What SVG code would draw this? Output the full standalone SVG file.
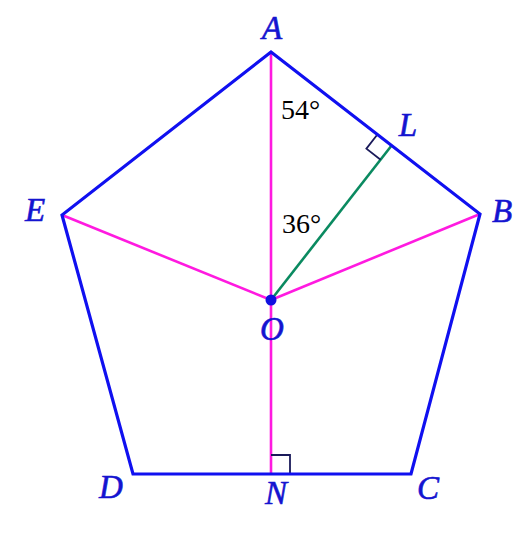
<svg xmlns="http://www.w3.org/2000/svg" width="531" height="536" viewBox="0 0 531 536">
<style>
.lbl{font-family:"Liberation Serif",serif;font-style:italic;font-size:33px;fill:#1414d0;stroke:#1414d0;stroke-width:0.6}
.num{font-family:"Liberation Serif",serif;font-size:28px;fill:#000}
.pent{fill:none;stroke:#1010f0;stroke-width:3.2;stroke-linejoin:miter}
.pink{stroke:#ff1ae0;stroke-width:2.6;fill:none}
.green{stroke:#0a8a60;stroke-width:2.6;fill:none}
.ra{stroke:#1a1a5a;stroke-width:1.8;fill:none}
</style>
<rect width="531" height="536" fill="#fff"/>
<g id="connectors">
<line class="pink" x1="271" y1="52" x2="271" y2="474"/>
<line class="pink" x1="62" y1="215" x2="271" y2="300"/>
<line class="pink" x1="480" y1="214" x2="271" y2="300"/>
<line class="green" x1="271" y1="300" x2="391.6" y2="145.5"/>
<polyline class="ra" points="377.4,134.5 366.4,148.7 380.6,159.7"/>
<polyline class="ra" points="271,455 290,455 290,474"/>
</g>
<g id="pentagon">
<polygon class="pent" points="271,52 480,214 411,474 133,474 62,215"/>
</g>
<g id="O"><circle cx="271" cy="300" r="5.5" fill="#1010e0"/><text class="lbl" x="272" y="340" text-anchor="middle">O</text></g>
<g id="A"><text class="lbl" x="272" y="39" text-anchor="middle">A</text></g>
<g id="B"><text class="lbl" x="502" y="222" text-anchor="middle">B</text></g>
<g id="C"><text class="lbl" x="428" y="499" text-anchor="middle">C</text></g>
<g id="D"><text class="lbl" x="111" y="498" text-anchor="middle">D</text></g>
<g id="E"><text class="lbl" x="35" y="221" text-anchor="middle">E</text></g>
<g id="L"><text class="lbl" x="408" y="136" text-anchor="middle">L</text></g>
<g id="N"><text class="lbl" x="276" y="504" text-anchor="middle">N</text></g>
<g id="angles">
<text class="num" x="281" y="119">54°</text>
<text class="num" x="282" y="233">36°</text>
</g>
</svg>
